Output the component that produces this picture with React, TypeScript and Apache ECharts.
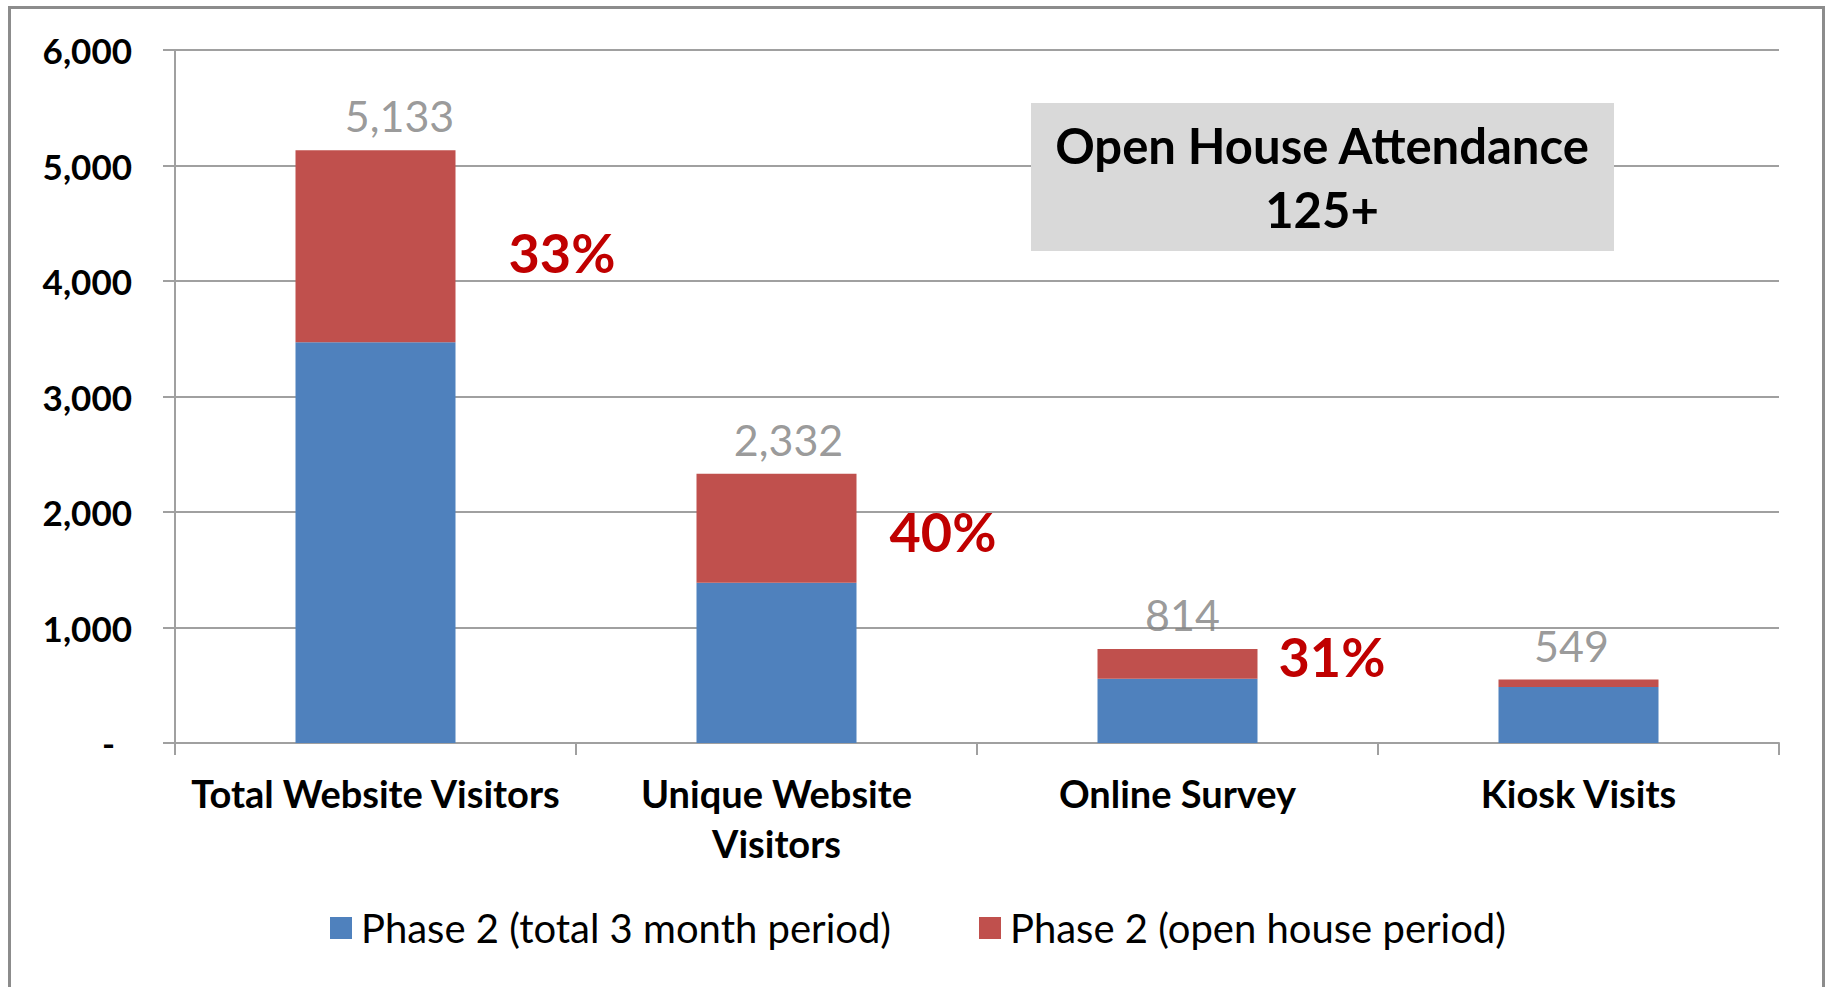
import React, { useEffect, useRef } from "react";
import * as echarts from "echarts";

const categories = ["Total Website Visitors", "Unique Website\nVisitors", "Online Survey", "Kiosk Visits"];
const seriesNames = ["Phase 2 (total 3 month period)", "Phase 2 (open house period)"];
const phase2Total = [3470, 1387, 557, 485];
const phase2OpenHouse = [1663, 945, 257, 64];
const totals = [5133, 2332, 814, 549];
const pctLabels = ["33%", "40%", "31%", ""];
const yMax = 6000;
const yInterval = 1000;
const annotationLines = ["Open House Attendance", "125+"];

const FONT = 'Lato, "Noto Sans", sans-serif';
const GRID_COLOR = "#a0a0a0";

export default function App() {
  const ref = useRef<HTMLDivElement>(null);

  useEffect(() => {
    document.body.style.margin = "0";
    if (!ref.current) return;
    const chart = echarts.init(ref.current, undefined, { renderer: "svg" });

    // label nudges (layout only)
    const pctDistance = [53, 33, 21, 0];
    const pctOffsetY = [6, 3, -7, 0];
    const totalOffsetX = [24, 12, 5, -7];

    chart.setOption({
      animation: false,
      backgroundColor: "#ffffff",
      textStyle: { fontFamily: FONT },
      grid: { left: 175, top: 50, width: 1604, height: 693, containLabel: false },
      legend: {
        data: seriesNames,
        left: 330,
        top: 908,
        padding: 0,
        itemWidth: 22,
        itemHeight: 22,
        itemGap: 88,
        icon: "rect",
        textStyle: { fontFamily: FONT, fontSize: 40, color: "#000", padding: [0, 0, 0, 4] },
      },
      xAxis: {
        type: "category",
        data: categories,
        axisLine: { show: true, lineStyle: { color: GRID_COLOR, width: 2 } },
        axisTick: { show: true, alignWithLabel: false, length: 12, lineStyle: { color: GRID_COLOR, width: 2 } },
        axisLabel: {
          margin: 25,
          fontFamily: FONT,
          fontSize: 38,
          fontWeight: "bold",
          color: "#000",
          lineHeight: 50,
          interval: 0,
        },
      },
      yAxis: {
        type: "value",
        min: 0,
        max: yMax,
        interval: yInterval,
        axisLine: { show: true, lineStyle: { color: GRID_COLOR, width: 2 } },
        axisTick: { show: true, length: 12, lineStyle: { color: GRID_COLOR, width: 2 } },
        splitLine: { show: true, lineStyle: { color: GRID_COLOR, width: 2 } },
        axisLabel: {
          margin: 43,
          fontFamily: FONT,
          fontSize: 35,
          fontWeight: "bold",
          color: "#000",
          formatter: (v: number) => (v === 0 ? "{dash|-}" : v.toLocaleString("en-US")),
          rich: {
            dash: { fontFamily: FONT, fontSize: 35, fontWeight: "bold", color: "#000", padding: [0, 17, 0, 0] },
          },
        },
      },
      series: [
        {
          name: seriesNames[0],
          type: "bar",
          stack: "phase2",
          barWidth: 160,
          itemStyle: { color: "#4F81BD" },
          data: phase2Total,
        },
        {
          name: seriesNames[1],
          type: "bar",
          stack: "phase2",
          barWidth: 160,
          itemStyle: { color: "#C0504D" },
          data: phase2OpenHouse.map((v, i) => ({
            value: v,
            label: pctLabels[i]
              ? {
                  show: true,
                  position: "right",
                  distance: pctDistance[i],
                  offset: [0, pctOffsetY[i]],
                  formatter: pctLabels[i],
                  fontFamily: FONT,
                  fontSize: 54,
                  fontWeight: "bold",
                  color: "#C00000",
                }
              : { show: false },
          })),
        },
        {
          name: "Total",
          type: "scatter",
          symbolSize: 0,
          silent: true,
          data: totals.map((v, i) => ({ value: v, label: { offset: [totalOffsetX[i], 0] } })),
          label: {
            show: true,
            position: "top",
            distance: 13,
            fontFamily: FONT,
            fontSize: 43,
            color: "#808080",
            formatter: (p: any) => totals[p.dataIndex].toLocaleString("en-US"),
          },
        },
      ],
      graphic: [
        {
          type: "rect",
          left: 7,
          top: 5,
          shape: { x: 0, y: 0, width: 1814, height: 1000 },
          style: { fill: "none", stroke: "#8c8c8c", lineWidth: 3 },
          silent: true,
        },
        {
          type: "rect",
          shape: { x: 1031, y: 103, width: 583, height: 148 },
          style: { fill: "#D9D9D9" },
          z: 10,
        },
        {
          type: "text",
          x: 1322,
          y: 177,
          z: 11,
          style: {
            text: annotationLines.join("\n"),
            fontFamily: FONT,
            fontSize: 49,
            fontWeight: "bold",
            fill: "#000",
            align: "center",
            verticalAlign: "middle",
            lineHeight: 64,
          },
        },
      ],
    });

    return () => chart.dispose();
  }, []);

  return <div ref={ref} style={{ width: 1831, height: 987 }} />;
}
